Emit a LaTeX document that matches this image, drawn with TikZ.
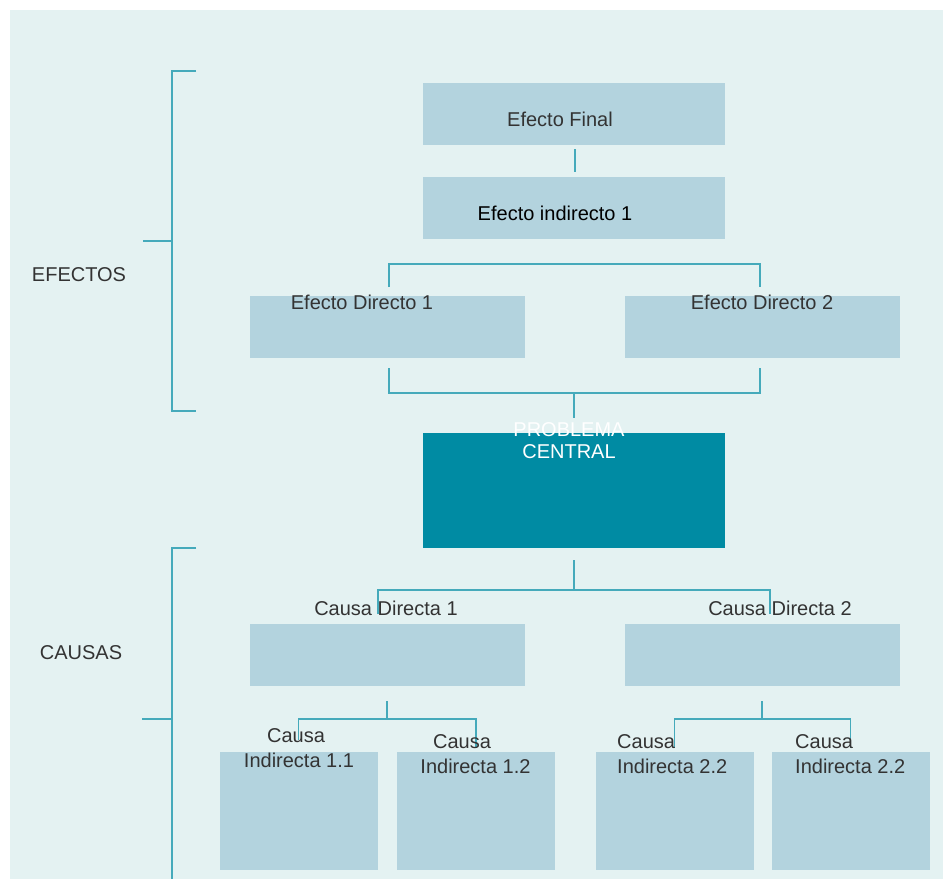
\documentclass[tikz,border=0pt]{standalone}
\usepackage{fontspec}
\setmainfont{Liberation Sans}
\definecolor{bgc}{HTML}{E4F2F2}
\definecolor{boxc}{HTML}{B3D3DE}
\definecolor{darkc}{HTML}{008BA3}
\definecolor{linec}{HTML}{45AABB}
\definecolor{txtc}{HTML}{333333}
\begin{document}
\begin{tikzpicture}[x=1pt,y=-1pt,
  lbox/.style={rectangle, fill=boxc, draw=none, inner sep=0pt, outer sep=0pt},
  dbox/.style={rectangle, fill=darkc, draw=none, inner sep=0pt, outer sep=0pt},
  wide/.style={minimum width=275pt, minimum height=62pt},
  top/.style={minimum width=302pt, minimum height=62pt},
  small/.style={minimum width=158pt, minimum height=118pt},
  lbl/.style={inner sep=0pt, text=txtc, font=\fontsize{20}{24}\selectfont},
  conn/.style={draw=linec, line width=1.9pt}]
\useasboundingbox (0,0) rectangle (943,879);
\fill[white] (0,0) rectangle (943,879);
\fill[bgc] (10,10) rectangle (943,879);

% boxes
\node[lbox, top] (ef) at (574,114) {};
\node[lbox, top] (ei) at (574,208) {};
\node[lbox, wide] (ed1) at (387.5,327) {};
\node[lbox, wide] (ed2) at (762.5,327) {};
\node[dbox, minimum width=302pt, minimum height=115pt] (pc) at (574,490.5) {};
\node[lbox, wide] (cd1) at (387.5,655) {};
\node[lbox, wide] (cd2) at (762.5,655) {};
\node[lbox, small] (ci11) at (298.5,811) {};
\node[lbox, small] (ci12) at (476,811) {};
\node[lbox, small] (ci21) at (674.5,811) {};
\node[lbox, small] (ci22) at (850.5,811) {};

% connectors
\draw[conn] ([xshift=1pt,yshift=-4pt]ef.south) -- ([xshift=1pt,yshift=5pt]ei.north);
\draw[conn] ([xshift=1.5pt,yshift=9pt]ed1.north) |- ([xshift=-2.5pt,yshift=32pt]ed2.north) -- ([xshift=-2.5pt,yshift=9pt]ed2.north);
\draw[conn] ([xshift=1.5pt,yshift=-10pt]ed1.south) |- ([xshift=-2.5pt,yshift=-35pt]ed2.south) -- ([xshift=-2.5pt,yshift=-10pt]ed2.south);
\draw[conn] ([yshift=40pt]pc.north) -- ([yshift=15pt]pc.north);
\draw[conn] ([yshift=-12pt]pc.south) -- ([yshift=-42pt]pc.south);
\draw[conn] ([xshift=-9.5pt,yshift=10pt]cd1.north) |- ([xshift=7.5pt,yshift=34pt]cd2.north) -- ([xshift=7.5pt,yshift=10pt]cd2.north);
\draw[conn] ([xshift=-0.5pt,yshift=-15pt]cd1.south) -- ([xshift=-0.5pt,yshift=-33pt]cd1.south);
\draw[conn] ([yshift=12pt]ci11.north) |- ([yshift=33pt]ci12.north) -- ([yshift=4pt]ci12.north);
\draw[conn] ([xshift=-0.5pt,yshift=-15pt]cd2.south) -- ([xshift=-0.5pt,yshift=-33pt]cd2.south);
\draw[conn] ([yshift=4pt]ci21.north) |- ([yshift=33pt]ci22.north) -- ([yshift=4pt]ci22.north);

% side brackets
\coordinate (eftop) at (196,71);
\coordinate (efbot) at (196,411);
\coordinate (efmid) at (143,241);
\coordinate (catop) at (196,548);
\coordinate (cabot) at (172,879);
\coordinate (camid) at (142,719);
\draw[conn] (eftop) -- (172,71) -- (172,411) -- (efbot);
\draw[conn] (efmid) -- (172,241);
\draw[conn] (catop) -- (172,548) -- (cabot);
\draw[conn] (camid) -- (172,719);

% texts
\node[lbl] (tef) at (560,119) {Efecto Final};
\node[lbl, text=black] (tei) at (555,213) {Efecto indirecto 1};
\node[lbl] (ted1) at (362,302) {Efecto Directo 1};
\node[lbl] (ted2) at (762,302) {Efecto Directo 2};
\node[lbl, text=white] (tpc1) at (569,430) {PROBLEMA};
\node[lbl, text=white] (tpc2) at (569,452) {CENTRAL};
\node[lbl] (tcd1) at (386,608) {Causa Directa 1};
\node[lbl] (tcd2) at (780,608) {Causa Directa 2};
\node[lbl] (t11a) at (296,736) {Causa};
\node[lbl] (t11b) at (299,760) {Indirecta 1.1};
\node[lbl] (t12a) at (462,742) {Causa};
\node[lbl] (t12b) at (475.5,766) {Indirecta 1.2};
\node[lbl, anchor=west] (t21a) at (617,742) {Causa};
\node[lbl, anchor=west] (t21b) at (617,766) {Indirecta 2.2};
\node[lbl, anchor=west] (t22a) at (795,742) {Causa};
\node[lbl, anchor=west] (t22b) at (795,766) {Indirecta 2.2};
\node[lbl] (tefe) at (79,275) {EFECTOS};
\node[lbl] (tcau) at (81,653) {CAUSAS};
\end{tikzpicture}
\end{document}
